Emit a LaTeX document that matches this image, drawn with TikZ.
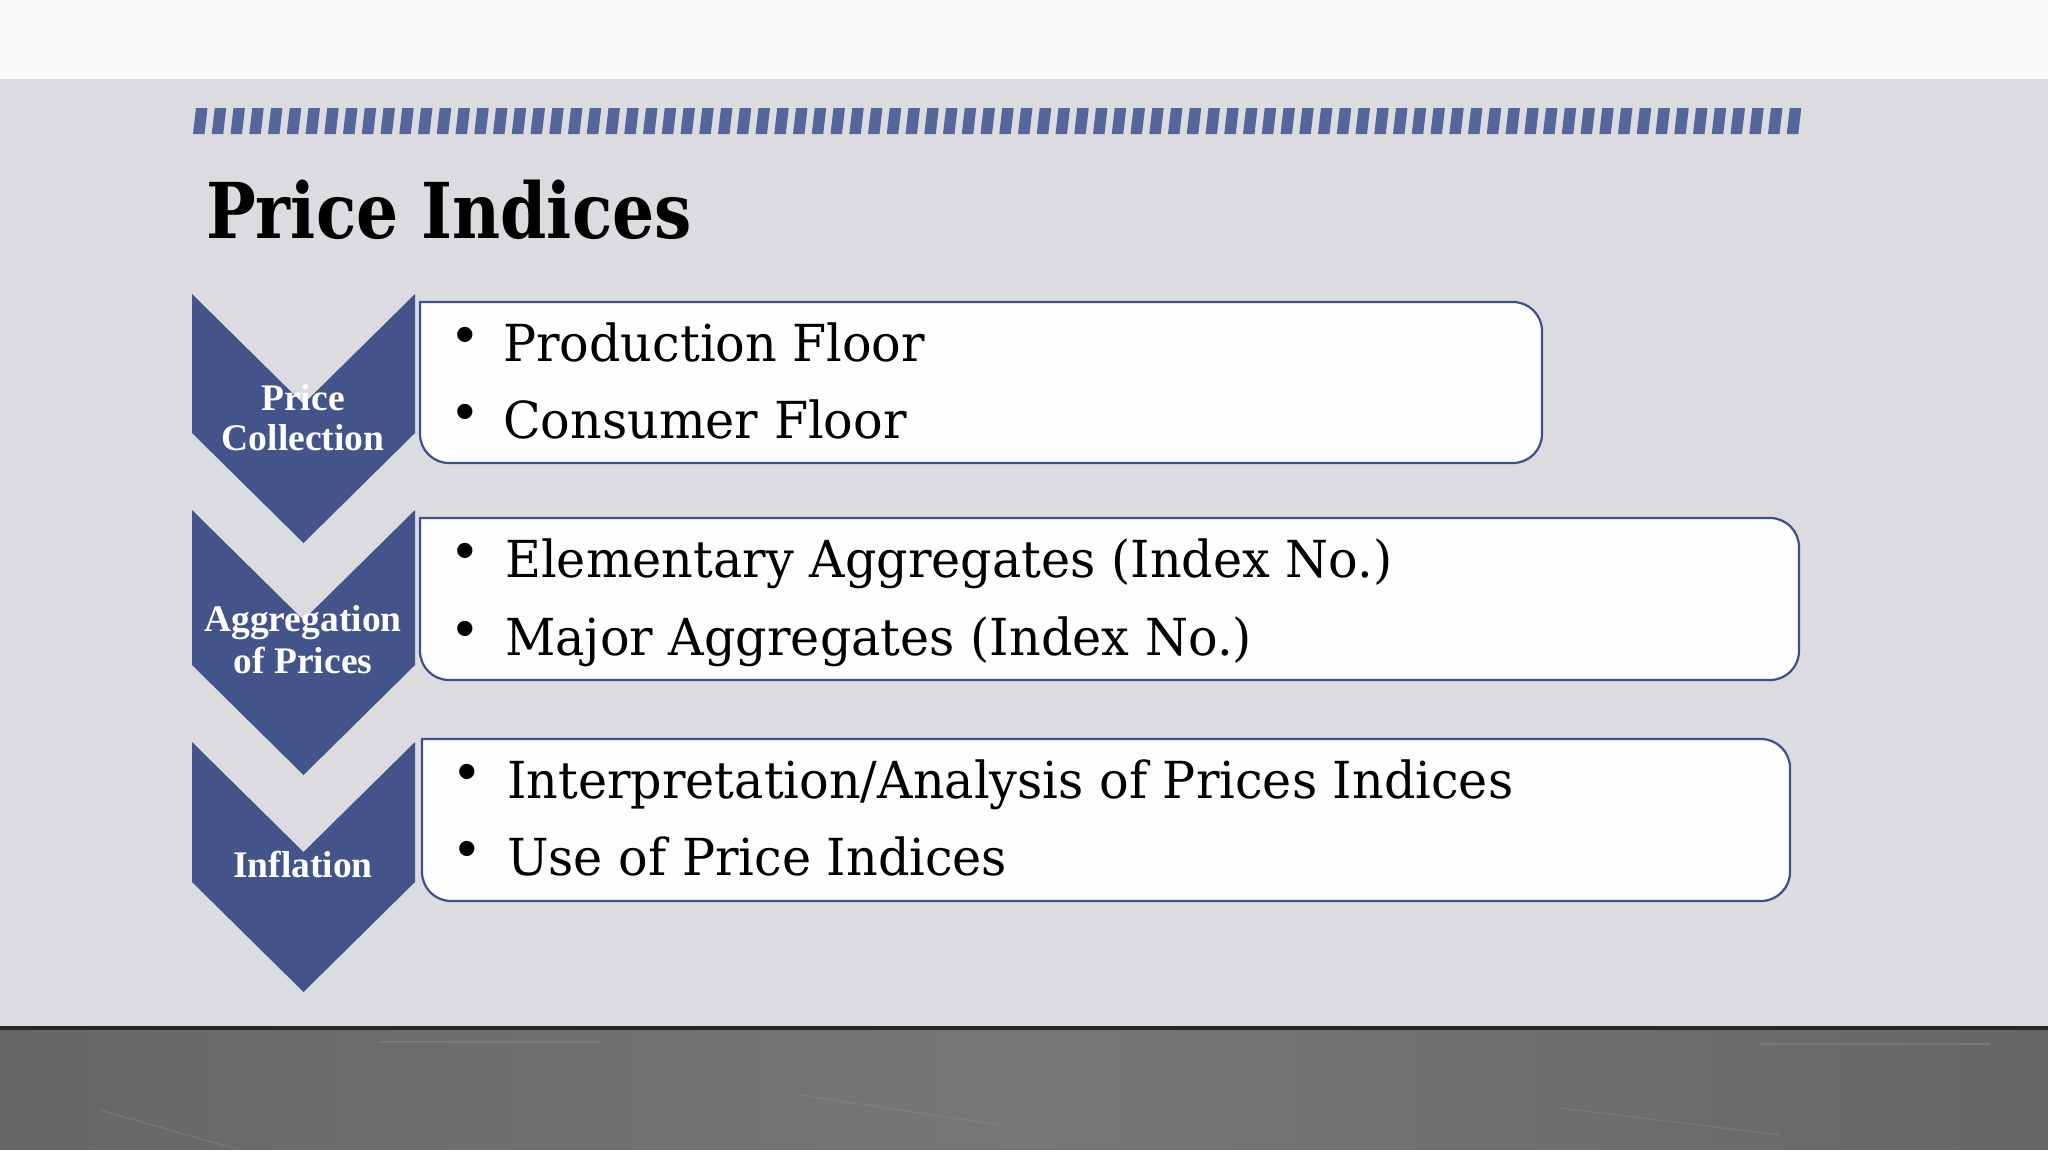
\documentclass[tikz,border=0pt]{standalone}
\usepackage{fontspec}
\setmainfont{DejaVu Serif}
\newfontfamily\bodyfont{DejaVu Serif}[FakeStretch=0.965]
\newfontfamily\titlefont{DejaVu Serif}[FakeStretch=0.86]
\newfontfamily\chevfont{Liberation Serif}
\newfontfamily\bulletfont{Liberation Sans}
\definecolor{panel}{HTML}{DCDCE0}
\definecolor{topband}{HTML}{FAFAFA}
\definecolor{chev}{HTML}{43548A}
\definecolor{stripe}{HTML}{55669A}
\definecolor{boxline}{HTML}{3F5089}
\definecolor{boxfill}{HTML}{FDFDFD}
\definecolor{stoneA}{HTML}{666666}
\definecolor{stoneB}{HTML}{777776}
\definecolor{scratch}{HTML}{8A8782}
\tikzset{
  chevtext/.style={anchor=base, inner sep=0pt, text=white, font=\chevfont\bfseries\fontsize{37.5}{41}\selectfont},
  itemtext/.style={anchor=base west, inner sep=0pt, text=black, font=\bodyfont\fontsize{51}{60}\selectfont},
  bullettext/.style={anchor=base, inner sep=0pt, text=black, font=\bulletfont\fontsize{56}{60}\selectfont},
  itembox/.style={draw=boxline, fill=boxfill, line width=2.2pt},
  chevshape/.style={fill=chev},
  scratchline/.style={draw=scratch, line width=1.2pt, opacity=0.5},
}
\begin{document}
\begin{tikzpicture}[x=1pt, y=-1pt]
\useasboundingbox (0,0) rectangle (2048,1152);
% background bands
\fill[topband] (0,0) rectangle (2048,78);
\fill[panel] (0,78) rectangle (2048,1027);
\fill[white!90!panel] (0,77) rectangle (2048,79);
\shade[left color=stoneA, right color=stoneA, middle color=stoneB] (0,1030) rectangle (2048,1150);
\draw[scratchline] (100,1110) -- (240,1150);
\draw[scratchline] (380,1042) -- (600,1042);
\draw[scratchline] (800,1095) -- (1000,1125);
\draw[scratchline] (1560,1108) -- (1780,1135);
\draw[scratchline] (1760,1044) -- (1990,1044);
\fill[black!85] (0,1026) rectangle (2048,1030);
\fill[white] (0,1150) rectangle (2048,1152);
% striped bar
\foreach \i in {0,...,85} {
  \fill[stripe] ({193+\i*18.75+3},108) -- ({193+\i*18.75+14.5},108) -- ({193+\i*18.75+11.5},134) -- ({193+\i*18.75},134) -- cycle;
}
% title
\node[anchor=base west, inner sep=0pt, font=\titlefont\bfseries\fontsize{77}{90}\selectfont] (title) at (206,238) {Price Indices};
% chevrons
\fill[chevshape] (192,294) -- (303.5,404) -- (415,294) -- (415,433) -- (303.5,543) -- (192,433) -- cycle;
\fill[chevshape] (192,510) -- (303.5,620) -- (415,510) -- (415,665) -- (303.5,775) -- (192,665) -- cycle;
\fill[chevshape] (192,742) -- (303.5,852) -- (415,742) -- (415,882) -- (303.5,992) -- (192,882) -- cycle;
\node[chevtext] (c1a) at (303,410) {Price};
\node[chevtext] (c1b) at (303,450) {Collection};
\node[chevtext] (c2a) at (303,631) {Aggregation};
\node[chevtext] (c2b) at (303,673) {of Prices};
\node[chevtext] (c3) at (303,877) {Inflation};
% boxes
\draw[itembox] (420,302) [rounded corners=29pt] -- (1542,302) -- (1542,463) -- (420,463) [sharp corners] -- cycle;
\draw[itembox] (420,518) [rounded corners=29pt] -- (1799,518) -- (1799,680) -- (420,680) [sharp corners] -- cycle;
\draw[itembox] (422,739) [rounded corners=29pt] -- (1790,739) -- (1790,901) -- (422,901) [sharp corners] -- cycle;
% bullets and items
\node[bullettext] (b1) at (465,353) {•};
\node[bullettext] (b2) at (465,430) {•};
\node[bullettext] (b3) at (465,569) {•};
\node[bullettext] (b4) at (465,647) {•};
\node[bullettext] (b5) at (467,790) {•};
\node[bullettext] (b6) at (467,867) {•};
\node[itemtext] (t1) at (503,361) {Production\hspace{0.3em}Floor};
\node[itemtext] (t2) at (503,438) {Consumer Floor};
\node[itemtext] (t3) at (505,577) {Elementary Aggregates (Index No.)};
\node[itemtext] (t4) at (505,655) {Major Aggregates (Index No.)};
\node[itemtext] (t5) at (507,798) {Interpretation/Analysis of Prices Indices};
\node[itemtext] (t6) at (507,875) {Use of Price Indices};
\end{tikzpicture}
\end{document}
